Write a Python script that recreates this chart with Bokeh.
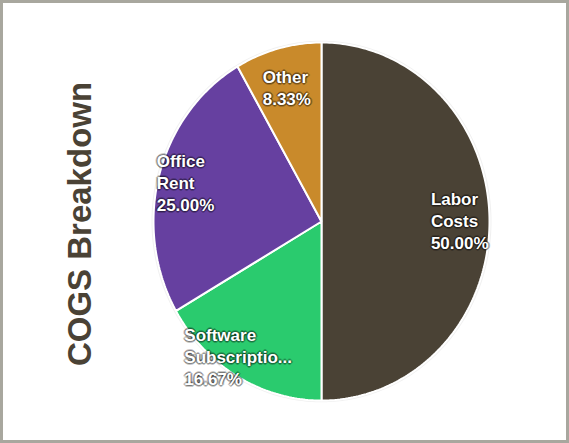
import numpy as np
from bokeh.plotting import figure
from bokeh.models import ColumnDataSource, Range1d, Label
from bokeh.embed import file_html
from bokeh.resources import INLINE
from bokeh.core.properties import value

# ---- data ----
categories = ["Labor Costs", "Software Subscriptions", "Office Rent", "Other"]
values = [50.0, 16.67, 25.0, 8.33]
colors = ["#4a4235", "#2acb6e", "#6640a0", "#c98a2b"]
title_text = "COGS Breakdown"

# ---- layout / style ----
W, H = 569, 443
CX, CY = 321, 221          # pie centre in px (from figure top-left)
RX, RY = 168, 179          # pie radii in px
LABEL_NUDGE = [(-25, 0), (-70, 12), (-35, -1), (-24, 5)]   # px, per slice
FONT = "Liberation Sans"
LH = 1.17

x_range = Range1d(-CX / RX, (W - CX) / RX)
y_range = Range1d(-(H - CY) / RY, CY / RY)

total = float(sum(values))
xs, ys, mids = [], [], []
cum = 0.0
for v in values:
    frac = v / total
    start = np.pi / 2 - 2 * np.pi * cum
    end = start - 2 * np.pi * frac
    t = np.linspace(start, end, max(8, int(400 * frac)))
    xs.append([0.0] + list(np.cos(t)))
    ys.append([0.0] + list(np.sin(t)))
    mids.append((start + end) / 2)
    cum += frac


def wrap(name):
    words = [w if len(w) <= 11 else w[:11] + "..." for w in name.split()]
    return "\n".join(words)


labels = [wrap(c) + "\n" + f"{v / total * 100:.2f}%" for c, v in zip(categories, values)]
lx = [0.8 * np.cos(m) for m in mids]
ly = [0.8 * np.sin(m) for m in mids]
xo = [n[0] for n in LABEL_NUDGE]
yo = [n[1] for n in LABEL_NUDGE]

p = figure(width=W, height=H, x_range=x_range, y_range=y_range,
           output_backend="svg", toolbar_location=None,
           x_axis_location=None, y_axis_location=None,
           min_border=0, background_fill_color="white", border_fill_color="white",
           outline_line_color="#a8a79e", outline_line_width=5)
p.grid.visible = False

# faint shadow ring around the pie
t_all = np.linspace(0, 2 * np.pi, 400)
p.patch(list(1.012 * np.cos(t_all)), list(1.01 * np.sin(t_all)),
        fill_color="#000000", fill_alpha=0.06, line_color=None)

src = ColumnDataSource(dict(xs=xs, ys=ys, color=colors, cat=categories))
p.patches("xs", "ys", source=src, fill_color="color", line_color="white", line_width=2)

# text halo (dark glow)
for dx, dy in [(-1, -1), (1, -1), (-1, 1), (1, 1), (0, 2), (2, 0), (-2, 0), (0, -2)]:
    hs = ColumnDataSource(dict(x=lx, y=ly, text=labels,
                               xo=[a + dx for a in xo], yo=[b + dy for b in yo]))
    p.text("x", "y", text="text", source=hs, x_offset="xo", y_offset="yo",
           text_color="black", text_alpha=0.22, text_font=value(FONT),
           text_font_size="17px", text_font_style="bold",
           text_align="left", text_baseline="middle", text_line_height=LH)

ls = ColumnDataSource(dict(x=lx, y=ly, text=labels, xo=xo, yo=yo))
p.text("x", "y", text="text", source=ls, x_offset="xo", y_offset="yo",
       text_color="white", text_font=value(FONT), text_font_size="17px",
       text_font_style="bold", text_align="left", text_baseline="middle",
       text_line_height=LH)

title = Label(x=79, y=H - 223.5, x_units="screen", y_units="screen",
              text=title_text, angle=np.pi / 2, text_align="center",
              text_baseline="middle", text_font=FONT, text_font_size="33px",
              text_font_style="bold", text_color="#4a4235")
p.add_layout(title)

open("out.html", "w").write(file_html(p, INLINE))
